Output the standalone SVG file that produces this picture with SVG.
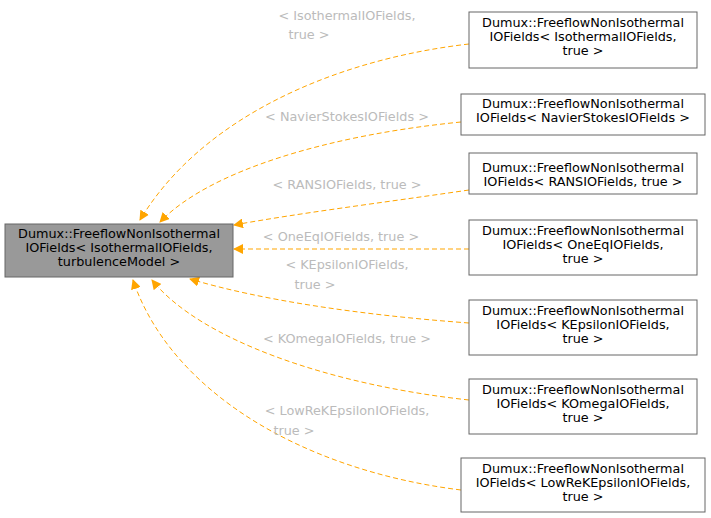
<svg xmlns="http://www.w3.org/2000/svg" width="711" height="518" viewBox="0 0 711 518">
<style>
text{font-family:"DejaVu Sans",sans-serif;font-size:12.8px;text-anchor:middle}
.n rect{fill:#fff;stroke:#666;stroke-width:1}
.e path{fill:none;stroke:#ffa500;stroke-dasharray:5,3}
.l{fill:#bbb}
</style>
<defs><marker id="a" viewBox="0 0 10 10" refX="9" refY="5" markerWidth="10" markerHeight="10" markerUnits="userSpaceOnUse" orient="auto"><path d="M0,0L10,5L0,10z" fill="#ffa500"/></marker></defs>
<rect width="711" height="518" fill="#fff"/>
<g id="edges" class="e">
<path d="M469,44C330,60 200,120 140,220" marker-end="url(#a)"/>
<path d="M461,122C330,135 210,170 160,222" marker-end="url(#a)"/>
<path d="M469,190C380,203 300,213 234,225" marker-end="url(#a)"/>
<path d="M469,249L234,249" marker-end="url(#a)"/>
<path d="M469,323C360,315 260,300 190,279" marker-end="url(#a)"/>
<path d="M469,400C330,385 200,340 152,280" marker-end="url(#a)"/>
<path d="M461,490C300,470 170,390 133,280" marker-end="url(#a)"/>
<text class="l" x="347" y="20">&lt; IsothermalIOFields,</text>
<text class="l" x="309" y="39">true &gt;</text>
<text class="l" x="347" y="121">&lt; NavierStokesIOFields &gt;</text>
<text class="l" x="347" y="189">&lt; RANSIOFields, true &gt;</text>
<text class="l" x="341" y="241">&lt; OneEqIOFields, true &gt;</text>
<text class="l" x="347" y="269">&lt; KEpsilonIOFields,</text>
<text class="l" x="315" y="289">true &gt;</text>
<text class="l" x="347" y="343">&lt; KOmegaIOFields, true &gt;</text>
<text class="l" x="347" y="415">&lt; LowReKEpsilonIOFields,</text>
<text class="l" x="294" y="435">true &gt;</text>
</g>
<g id="main" class="n"><rect x="5" y="224" width="228" height="53" style="fill:#999"/><text x="119" y="238">Dumux::FreeflowNonIsothermal</text><text x="119" y="252">IOFields&lt; IsothermalIOFields,</text><text x="119" y="266">turbulenceModel &gt;</text></g>
<g id="n1" class="n"><rect x="469" y="12" width="228" height="56"/><text x="583" y="27">Dumux::FreeflowNonIsothermal</text><text x="583" y="41">IOFields&lt; IsothermalIOFields,</text><text x="583" y="55">true &gt;</text></g>
<g id="n2" class="n"><rect x="461" y="94" width="244" height="41"/><text x="583" y="108">Dumux::FreeflowNonIsothermal</text><text x="583" y="122">IOFields&lt; NavierStokesIOFields &gt;</text></g>
<g id="n3" class="n"><rect x="469" y="153" width="228" height="41"/><text x="583" y="172">Dumux::FreeflowNonIsothermal</text><text x="583" y="186">IOFields&lt; RANSIOFields, true &gt;</text></g>
<g id="n4" class="n"><rect x="469" y="220" width="228" height="55"/><text x="583" y="235">Dumux::FreeflowNonIsothermal</text><text x="583" y="249">IOFields&lt; OneEqIOFields,</text><text x="583" y="263">true &gt;</text></g>
<g id="n5" class="n"><rect x="469" y="300" width="228" height="55"/><text x="583" y="315">Dumux::FreeflowNonIsothermal</text><text x="583" y="329">IOFields&lt; KEpsilonIOFields,</text><text x="583" y="343">true &gt;</text></g>
<g id="n6" class="n"><rect x="469" y="379" width="228" height="55"/><text x="583" y="394">Dumux::FreeflowNonIsothermal</text><text x="583" y="408">IOFields&lt; KOmegaIOFields,</text><text x="583" y="422">true &gt;</text></g>
<g id="n7" class="n"><rect x="461" y="458" width="244" height="54"/><text x="583" y="473">Dumux::FreeflowNonIsothermal</text><text x="583" y="487">IOFields&lt; LowReKEpsilonIOFields,</text><text x="583" y="501">true &gt;</text></g>
</svg>
